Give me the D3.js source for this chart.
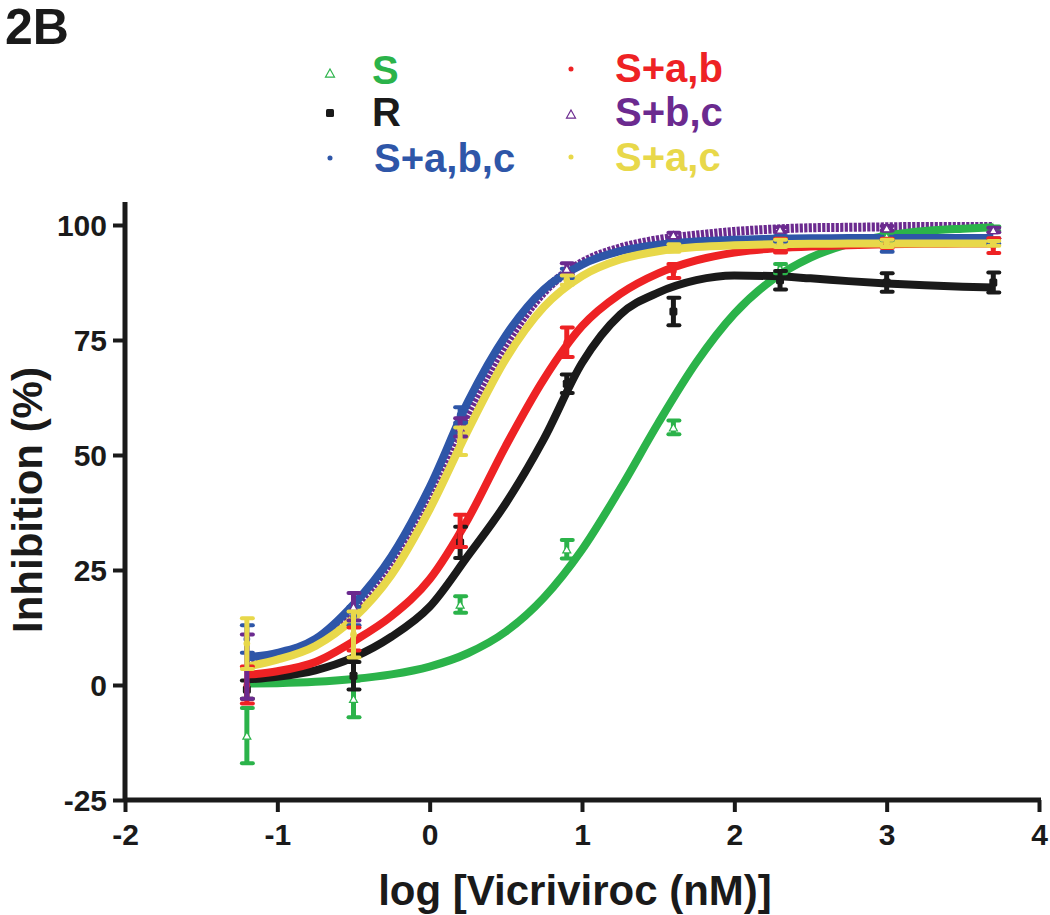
<!DOCTYPE html>
<html>
<head>
<meta charset="utf-8">
<script src="https://cdn.jsdelivr.net/npm/d3@7/dist/d3.min.js"></script>
<style>
  html, body { margin: 0; padding: 0; background: #fff; }
  svg { display: block; }
  text { font-family: "Liberation Sans", Arial, Helvetica, sans-serif; font-weight: bold; }
</style>
</head>
<body>
<svg id="chart" width="1050" height="915"></svg>
<script>
// ---------- data ----------
const doseX = [-1.2, -0.5, 0.2, 0.9, 1.6, 2.3, 3.0, 3.7];

const sMean   = [-11, -3, 17.5, 29.5, 56, 90.5, 97.5, 99.2];
const sErr    = [6, 4, 1.8, 2, 1.5, 1, 0.8, 0.5];
const rMean   = [-1, 2, 31, 65.5, 81.2, 88, 87.5, 87.5];
const rErr    = [2, 3, 3.4, 2, 3, 2, 2, 2.2];
const abcMean = [10, 15, 58.7, 89.5, 96.5, 97, 95.5, 96.5];
const abcErr  = [3, 2, 1.7, 1, 0.6, 0.6, 1.3, 0.6];
const abMean  = [0, 10, 33.5, 74.5, 90, 95.5, 96, 95.5];
const abErr   = [4, 2.5, 3.5, 3.2, 1.5, 1.5, 1, 1.6];
const bcMean  = [4, 17, 56, 90.5, 97.8, 99, 99.3, 98.9];
const bcErr   = [7, 3, 2, 1.2, 0.5, 0.5, 0.5, 0.5];
const acMean  = [9, 11, 53, 88, 95, 96, 96, 96];
const acErr   = [5.5, 5, 3, 1, 0.8, 0.8, 0.8, 0.5];

// fitted curves
const curveX   = [-1.2, -1, -0.75, -0.5, -0.25, 0, 0.25, 0.5, 0.75, 1, 1.25, 1.5, 1.75, 2, 2.25, 2.5, 2.75, 3, 3.25, 3.5, 3.7];
const sCurve   = [0.3, 0.4, 0.7, 1.3, 2.3, 4.0, 6.9, 11.6, 19, 29.4, 42.6, 56.9, 70.1, 80.7, 88.1, 92.9, 95.9, 97.7, 98.7, 99.2, 99.5];
const rCurve   = [1.2, 1.8, 3.2, 6, 10.5, 17, 28, 39.5, 53.5, 70, 80.5, 85.3, 88, 89, 88.9, 88.4, 87.8, 87.3, 86.9, 86.6, 86.4];
const abcCurve = [6, 7, 10, 17.5, 28, 43, 61.5, 76, 86, 91.4, 94.3, 95.7, 96.4, 96.8, 97, 97.1, 97.2, 97.2, 97.2, 97.2, 97.2];
const abCurve  = [2.2, 3, 5, 9.5, 15, 23, 36, 52, 66.5, 78, 85, 89.5, 92.3, 94, 94.9, 95.3, 95.6, 95.8, 95.9, 96, 96];
const bcCurve  = [5, 6.2, 9.2, 16, 26, 40.5, 58.5, 74, 85.5, 91.8, 95, 96.8, 97.8, 98.6, 99.1, 99.4, 99.5, 99.6, 99.7, 99.7, 99.7];
const acCurve  = [4, 5.5, 8.5, 14.5, 24, 38.2, 55.3, 70.9, 82.2, 88.9, 92.5, 94.3, 95.2, 95.6, 95.8, 95.9, 96, 96, 96, 96, 96];

const seriesNames  = ["S", "R", "S+a,b,c", "S+a,b", "S+b,c", "S+a,c"];
const seriesColors = ["#2bb34a", "#1a1a1a", "#2e56a8", "#ee2224", "#6b2a8f", "#e8d84a"];
const seriesShapes = ["triangle", "square", "circle", "circle", "triangle", "circle"];

const xTicks = [-2, -1, 0, 1, 2, 3, 4];
const yTicks = [-25, 0, 25, 50, 75, 100];

const series = [
  { name: seriesNames[0], color: seriesColors[0], shape: seriesShapes[0], mean: sMean,   err: sErr,   curve: sCurve },
  { name: seriesNames[1], color: seriesColors[1], shape: seriesShapes[1], mean: rMean,   err: rErr,   curve: rCurve },
  { name: seriesNames[2], color: seriesColors[2], shape: seriesShapes[2], mean: abcMean, err: abcErr, curve: abcCurve },
  { name: seriesNames[3], color: seriesColors[3], shape: seriesShapes[3], mean: abMean,  err: abErr,  curve: abCurve },
  { name: seriesNames[4], color: seriesColors[4], shape: seriesShapes[4], mean: bcMean,  err: bcErr,  curve: bcCurve },
  { name: seriesNames[5], color: seriesColors[5], shape: seriesShapes[5], mean: acMean,  err: acErr,  curve: acCurve }
];

// ---------- layout ----------
const svg = d3.select("#chart");
const x = d3.scaleLinear().domain([-2, 4]).range([125, 1039]);
const y = d3.scaleLinear().domain([-25, 105]).range([800, 202]);

// title
svg.append("text").attr("x", 5).attr("y", 44).attr("font-size", 50).attr("fill", "#1a1a1a").text("2B");

// curves (purple first so others overlap it)
const line = d3.line().x(d => x(d[0])).y(d => y(d[1])).curve(d3.curveMonotoneX);
const curveOrder = [4, 0, 1, 3, 2, 5];
const gCurves = svg.append("g");
curveOrder.forEach(i => {
  const s = series[i];
  const pts = curveX.map((cx, k) => [cx, s.curve[k]]);
  const p = gCurves.append("path").attr("d", line(pts)).attr("fill", "none")
    .attr("stroke", s.color).attr("stroke-width", 8).attr("stroke-linejoin", "round");
  if (i === 4) p.attr("stroke-dasharray", "3.2,1.3").attr("stroke-width", 9);
});

// error bars + markers
const gPts = svg.append("g");
function drawMarker(g, shape, cx, cy, color, size) {
  if (shape === "circle") {
    g.append("circle").attr("cx", cx).attr("cy", cy).attr("r", size * 0.42).attr("fill", color);
  } else if (shape === "square") {
    g.append("rect").attr("x", cx - size / 2).attr("y", cy - size / 2).attr("width", size).attr("height", size)
      .attr("rx", 1.5).attr("fill", color);
  } else {
    const h = size * 0.9;
    g.append("path").attr("d", `M${cx},${cy - h / 2} L${cx + size / 2},${cy + h / 2} L${cx - size / 2},${cy + h / 2} Z`)
      .attr("fill", "#fff").attr("stroke", color).attr("stroke-width", 1.2);
  }
}
series.forEach(s => {
  doseX.forEach((dx, k) => {
    const px = x(dx);
    const top = y(s.mean[k] + s.err[k]);
    const bot = y(s.mean[k] - s.err[k]);
    gPts.append("line").attr("x1", px).attr("x2", px).attr("y1", top).attr("y2", bot)
      .attr("stroke", s.color).attr("stroke-width", 5);
    [top, bot].forEach(cy => {
      gPts.append("line").attr("x1", px - 5).attr("x2", px + 6).attr("y1", cy).attr("y2", cy)
        .attr("stroke", s.color).attr("stroke-width", 4).attr("stroke-linecap", "round");
    });
    drawMarker(gPts, s.shape, px, y(s.mean[k]), s.color, 8);
  });
});

// axes
const fmt = d => String(d);
const xAxis = d3.axisBottom(x).tickValues(xTicks).tickSize(12).tickPadding(6).tickFormat(fmt);
const yAxis = d3.axisLeft(y).tickValues(yTicks).tickSize(12).tickPadding(6).tickFormat(fmt);

const gx = svg.append("g").attr("transform", "translate(0,800)").call(xAxis);
const gy = svg.append("g").attr("transform", "translate(125,0)").call(yAxis);
[gx, gy].forEach(g => {
  g.select(".domain").remove();
  g.selectAll(".tick line").attr("stroke", "#1a1a1a").attr("stroke-width", 4);
  g.selectAll(".tick text").attr("fill", "#1a1a1a").attr("font-size", 30)
    .attr("font-family", "'Liberation Sans', Arial, sans-serif").attr("font-weight", "bold");
});
gx.selectAll(".tick text").attr("dy", "0.9em");
gy.selectAll(".tick text").attr("dy", "0.36em");
// axis lines
svg.append("line").attr("x1", x(-2)).attr("x2", x(4) + 2).attr("y1", y(-25)).attr("y2", y(-25))
  .attr("stroke", "#1a1a1a").attr("stroke-width", 5);
svg.append("line").attr("x1", x(-2)).attr("x2", x(-2)).attr("y1", y(-25) + 2).attr("y2", y(105))
  .attr("stroke", "#1a1a1a").attr("stroke-width", 5);

// axis titles
svg.append("text").attr("x", 575).attr("y", 905).attr("text-anchor", "middle")
  .attr("font-size", 42).attr("fill", "#1a1a1a").text("log [Vicriviroc (nM)]");
svg.append("text").attr("transform", "translate(42,500) rotate(-90)").attr("text-anchor", "middle")
  .attr("font-size", 42).attr("fill", "#1a1a1a").text("Inhibition (%)");

// legend
const legendPos = [
  { mx: 330, my: 73, tx: 372, ty: 84 },
  { mx: 330, my: 113, tx: 372, ty: 126 },
  { mx: 330, my: 158, tx: 374, ty: 172 },
  { mx: 571, my: 69, tx: 615, ty: 82 },
  { mx: 571, my: 114, tx: 615, ty: 126 },
  { mx: 571, my: 157, tx: 615, ty: 171 }
];
const gLeg = svg.append("g");
series.forEach((s, i) => {
  const p = legendPos[i];
  drawMarker(gLeg, s.shape, p.mx, p.my, s.color, s.shape === "circle" ? 6 : (s.shape === "square" ? 8 : 9));
  gLeg.append("text").attr("x", p.tx).attr("y", p.ty).attr("font-size", 40).attr("fill", s.color).text(s.name);
});
</script>
</body>
</html>
